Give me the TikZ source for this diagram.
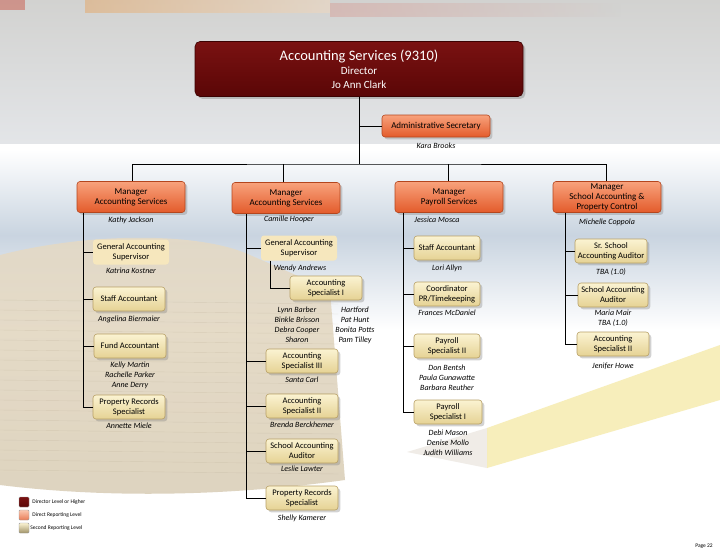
\documentclass[tikz,border=0pt]{standalone}
\usepackage{fontspec}
\setmainfont{Carlito}
\usetikzlibrary{positioning,shadows}

\definecolor{dirtop}{HTML}{7A1212}
\definecolor{dirbot}{HTML}{5A0606}
\definecolor{dirline}{HTML}{3C0202}
\definecolor{mgrtop}{HTML}{F8A27C}
\definecolor{mgrbot}{HTML}{E35B2B}
\definecolor{mgrline}{HTML}{B4461E}
\definecolor{subtop}{HTML}{FBF3D2}
\definecolor{subbot}{HTML}{E5D294}
\definecolor{subline}{HTML}{B8A066}
\definecolor{palebox}{HTML}{F6E7BD}
\definecolor{bgtopA}{HTML}{D2D2D0}
\definecolor{bgtopB}{HTML}{E3E5E8}
\definecolor{haze}{HTML}{C9D4E0}
\definecolor{bookA}{HTML}{E6DAC4}
\definecolor{bookB}{HTML}{D8CCB4}
\definecolor{bookline}{HTML}{BFB29A}
\definecolor{pencil}{HTML}{F5EAAA}
\definecolor{pencilwood}{HTML}{E6E0D8}
\definecolor{pencilorange}{HTML}{E8A25A}
\definecolor{pencilred}{HTML}{C84A3A}

\tikzset{
  director/.style={rectangle, rounded corners=5pt, draw=dirline, line width=0.6pt,
    top color=dirtop, bottom color=dirbot, text=white, align=center,
    minimum width=328pt, minimum height=55pt, font=\fontsize{11}{14}\selectfont,
    drop shadow={opacity=0.4}},
  manager/.style={rectangle, rounded corners=3pt, draw=mgrline, line width=0.6pt,
    top color=mgrtop, bottom color=mgrbot, align=center, minimum width=108pt,
    minimum height=31pt, inner sep=1pt, font=\fontsize{9}{10}\selectfont,
    drop shadow={opacity=0.35}},
  staff/.style={rectangle, rounded corners=3pt, draw=subline, line width=0.6pt,
    top color=subtop, bottom color=subbot, align=center, minimum width=72pt,
    minimum height=24pt, inner sep=1pt, font=\fontsize{8.5}{10}\selectfont,
    drop shadow={opacity=0.35}},
  pale/.style={rectangle, rounded corners=3pt, fill=palebox, align=center,
    minimum width=76pt, minimum height=25pt, inner sep=1pt,
    font=\fontsize{8.5}{10}\selectfont},
  who/.style={align=center, inner sep=1pt, font=\fontsize{8}{10}\selectfont\itshape},
  link/.style={draw=black, line width=0.8pt},
  legbox/.style={rectangle, rounded corners=1pt, minimum size=10pt, inner sep=0pt, draw=black!40},
  legtext/.style={inner sep=0pt, font=\fontsize{5.5}{6}\selectfont},
}

\begin{document}
\begin{tikzpicture}[x=1pt, y=-1pt]
\useasboundingbox (0,0) rectangle (720,554);

% background photo, roughly
\fill[white] (0,0) rectangle (720,554);
\shade[top color=bgtopA, bottom color=bgtopB] (0,0) rectangle (720,143);
\fill[pencilred, opacity=0.45] (0,0) rectangle (25,10);
\shade[left color=pencilorange, right color=pencilorange!40!white, opacity=0.45] (85,0) rectangle (330,12);
\shade[left color=pencilred!70, right color=bgtopA, opacity=0.3] (330,3) rectangle (620,16);
\shade[top color=white, bottom color=haze] (0,150) rectangle (720,235);
\shade[top color=haze, bottom color=white] (0,235) rectangle (720,330);
\shade[top color=bookA, bottom color=bookB, opacity=0.85] (0,255) .. controls (90,232) and (200,232) .. (250,255)
  -- (330,290) -- (345,480) .. controls (200,500) and (80,495) .. (0,485) -- cycle;
\foreach \y in {300,310,...,470}
  \draw[bookline, opacity=0.35] (0,\y) -- (338,\y+4);
\fill[pencilwood, opacity=0.6] (407,452) -- (487,428) -- (487,468) -- cycle;
\fill[pencil, opacity=0.8] (487,428) -- (720,345) -- (720,400) -- (487,468) -- cycle;

% boxes
\node[director] (dir) at (359,69) {{\fontsize{14.5}{15}\selectfont Accounting Services (9310)}\\Director\\Jo Ann Clark};
\node[manager, minimum height=22pt] (admin) at (436,126) {Administrative Secretary};
\node[who, below=4pt of admin] (kara) {Kara Brooks};

\node[manager] (m1) at (131,197) {Manager\\Accounting Services};
\node[manager] (m2) at (286,198) {Manager\\Accounting Services};
\node[manager] (m3) at (449,197) {Manager\\Payroll Services};
\node[manager] (m4) at (607,197) {Manager\\School Accounting \&\\Property Control};

\node[who, below=3pt of m1] (kathy) {Kathy Jackson};
\node[who, below=1pt of m2, xshift=3pt] (camille) {Camille Hooper};
\node[who, below=3pt of m3, xshift=-12pt] (jessica) {Jessica Mosca};
\node[who, below=5pt of m4] (michelle) {Michelle Coppola};

% first column
\node[pale] (gas1) at (131,252) {General Accounting\\Supervisor};
\node[who, below=2pt of gas1] (katrina) {Katrina Kostner};
\node[staff] (sa1) at (129,299) {Staff Accountant};
\node[who, below=3pt of sa1] (angelina) {Angelina Biermaier};
\node[staff] (fa1) at (130,346) {Fund Accountant};
\node[who, below=2pt of fa1] (kelly) {Kelly Martin\\Rachelle Parker\\Anne Derry};
\node[staff] (prs1) at (129,407) {Property Records\\Specialist};
\node[who, below=2pt of prs1] (annette) {Annette Miele};

% second column
\node[pale] (gas2) at (299,248) {General Accounting\\Supervisor};
\node[who, below=3pt of gas2, xshift=1pt] (wendy) {Wendy Andrews};
\node[staff] (as1) at (326,288) {Accounting\\Specialist I};
\node[who] (as1a) at (297,325) {Lynn Barber\\Binkle Brisson\\Debra Cooper\\Sharon};
\node[who] (as1b) at (355,325) {Hartford\\Pat Hunt\\Bonita Potts\\Pam Tilley};
\node[staff] (as3) at (302,361) {Accounting\\Specialist III};
\node[who, below=2pt of as3] (santa) {Santa Carl};
\node[staff] (as2) at (302,406) {Accounting\\Specialist II};
\node[who, below=2pt of as2] (brenda) {Brenda Berckhemer};
\node[staff] (saa2) at (302,451) {School Accounting\\Auditor};
\node[who, below=1pt of saa2] (leslie) {Leslie Lawter};
\node[staff] (prs2) at (302,498) {Property Records\\Specialist};
\node[who, below=3pt of prs2] (shelly) {Shelly Kamerer};

% third column
\node[staff, minimum width=66pt] (sa3) at (447,248) {Staff Accountant};
\node[who, below=3pt of sa3] (lori) {Lori Allyn};
\node[staff, minimum width=66pt] (crd) at (447,294) {Coordinator\\PR/Timekeeping};
\node[who, below=2pt of crd] (frances) {Frances McDaniel};
\node[staff, minimum width=66pt] (ps2) at (447,346) {Payroll\\Specialist II};
\node[who, below=5pt of ps2] (don) {Don Bentsh\\Paula Gunawatte\\Barbara Reuther};
\node[staff, minimum width=68pt] (ps1) at (448,412) {Payroll\\Specialist I};
\node[who, below=4pt of ps1] (debi) {Debi Mason\\Denise Mollo\\Judith Williams};

% fourth column
\node[staff] (ssa) at (611,251) {Sr. School\\Accounting Auditor};
\node[who, below=4pt of ssa] (tba) {TBA (1.0)};
\node[staff, minimum width=70pt] (saa4) at (613,295) {School Accounting\\Auditor};
\node[who, below=1pt of saa4] (maria) {Maria Mair\\TBA (1.0)};
\node[staff] (as4) at (613,344) {Accounting\\Specialist II};
\node[who, below=5pt of as4] (jenifer) {Jenifer Howe};

% lines
\coordinate (hub) at (359,164);
\draw[link] (dir) -- (hub);
\draw[link] (admin.west) -- (admin.west -| hub);
\draw[link] ([xshift=1pt]m1.north) |- (hub) -| ([xshift=-1pt]m4.north);
\draw[link] ([xshift=-3pt]m2.north) -- ([xshift=-3pt]m2.north |- hub);
\draw[link] ([xshift=-1pt]m3.north) -- ([xshift=-1pt]m3.north |- hub);

\coordinate (c1) at ([xshift=-48pt]m1.south);
\draw[link] (c1) |- (prs1.west);
\foreach \b in {gas1,sa1,fa1}
  \draw[link] (\b.west) -- (\b.west -| c1);

\coordinate (c2) at ([xshift=-40pt]m2.south);
\draw[link] (c2) |- (prs2.west);
\foreach \b in {gas2,as3,as2,saa2}
  \draw[link] (\b.west) -- (\b.west -| c2);
\coordinate (c2b) at ([xshift=-29pt]gas2.south);
\draw[link] (c2b) |- (as1.west);

\coordinate (c3) at ([xshift=-46pt]m3.south);
\draw[link] (c3) |- (ps1.west);
\foreach \b in {sa3,crd,ps2}
  \draw[link] (\b.west) -- (\b.west -| c3);

\coordinate (c4) at ([xshift=-42pt]m4.south);
\draw[link] (c4) |- (as4.west);
\foreach \b in {ssa,saa4}
  \draw[link] (\b.west) -- (\b.west -| c4);

% legend
\node[legbox, top color=dirtop, bottom color=dirbot] (lg1) at (24,502) {};
\node[legtext, right=3pt of lg1] (lgt1) {Director Level or Higher};
\node[legbox, top color=mgrtop!60!white, bottom color=mgrbot!80] (lg2) at (24,515) {};
\node[legtext, right=3pt of lg2] (lgt2) {Direct Reporting Level};
\node[legbox, top color=subtop, bottom color=subbot!70!black] (lg3) at (24,528) {};
\node[legtext, right=1pt of lg3] (lgt3) {Second Reporting Level};

\node[legtext] (page) at (704,546) {Page 22};
\end{tikzpicture}
\end{document}
